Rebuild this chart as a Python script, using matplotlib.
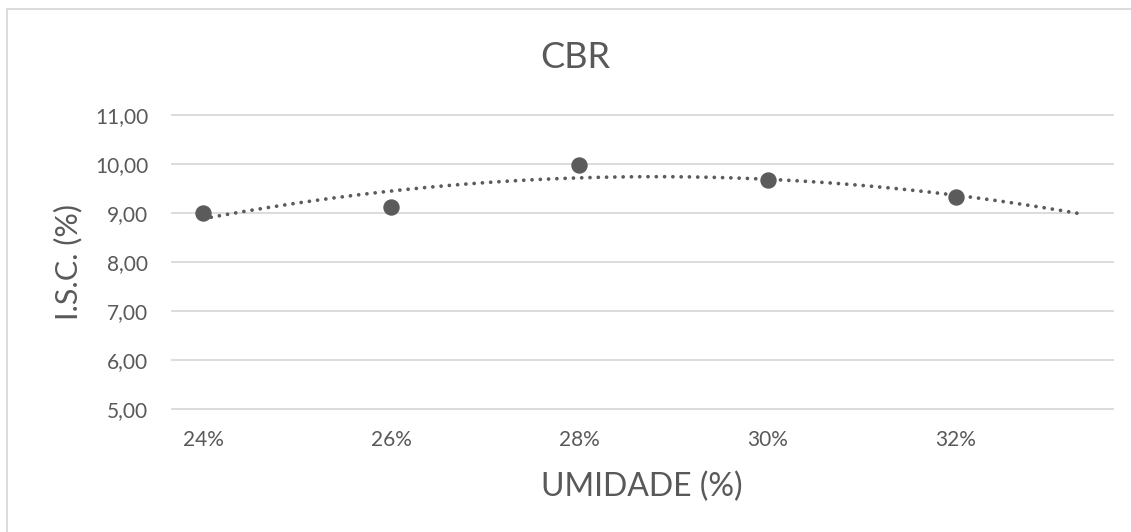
import matplotlib.pyplot as plt
import numpy as np
from matplotlib.lines import Line2D
from matplotlib.ticker import FuncFormatter

# ---- dados do ensaio CBR ----
umidade = [24, 26, 28, 30, 32]          # %
isc = [9.00, 9.13, 9.97, 9.67, 9.33]    # I.S.C. (%)
y_ticks = [5, 6, 7, 8, 9, 10, 11]
trend_end = 33.33                        # extensão da linha de tendência

TXT = '#595959'
GRID = '#D9D9D9'
PT = '#5B5B5B'

plt.rcParams['font.family'] = ['Lato', 'DejaVu Sans']

W, H = 1131, 532
fig = plt.figure(figsize=(W / 100, H / 100), dpi=100)
ax = fig.add_axes([172 / W, 1 - 409 / H, (1113 - 172) / W, (409 - 115) / H])

# linhas de grade horizontais
for v in y_ticks:
    ax.axhline(v, color=GRID, lw=1.3, zorder=0, clip_on=False)

# tendência polinomial de 2ª ordem
c = np.polyfit(umidade, isc, 2)
xt = np.linspace(umidade[0], trend_end, 200)
ax.plot(xt, np.polyval(c, xt), color=PT, lw=2.7, ls=(0, (0.01, 2.2)),
        dash_capstyle='round', zorder=2)

ax.plot(umidade, isc, 'o', color=PT, ms=10.8, zorder=3)

ax.set_xlim(23.67, 33.67)
ax.set_ylim(5, 11)
ax.set_xticks(umidade)
ax.set_yticks(y_ticks)
ax.xaxis.set_major_formatter(FuncFormatter(lambda v, p: f'{v:.0f}%'))
ax.yaxis.set_major_formatter(FuncFormatter(lambda v, p: f'{v:.2f}'.replace('.', ',')))
ax.tick_params(axis='x', length=0, pad=15, labelsize=15, labelcolor=TXT)
ax.tick_params(axis='y', length=0, pad=17, labelsize=15, labelcolor=TXT)
for s in ax.spines.values():
    s.set_visible(False)

fig.text(642 / W, 1 - 487 / H, 'UMIDADE (%)', ha='center', va='center',
         fontsize=23, color=TXT)
fig.text(68 / W, 1 - 262 / H, 'I.S.C. (%)', ha='center', va='center',
         rotation=90, fontsize=22, color=TXT)
fig.text(575 / W, 1 - 57 / H, 'CBR', ha='center', va='center',
         fontsize=26, color=TXT)

# moldura da área do gráfico
fig.add_artist(Line2D([7 / W, 7 / W], [0, 1 - 9 / H], color=GRID, lw=1.3))
fig.add_artist(Line2D([7 / W, 1], [1 - 9 / H, 1 - 9 / H], color=GRID, lw=1.3))

fig.savefig('out.png', dpi=100)
